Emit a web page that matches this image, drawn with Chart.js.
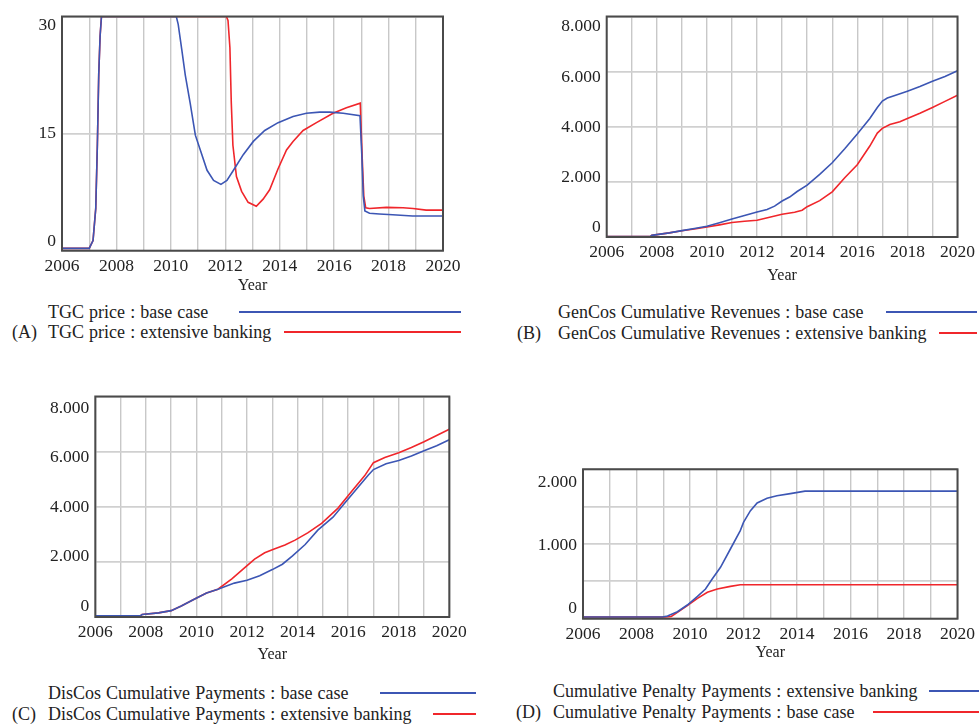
<!DOCTYPE html>
<html>
<head>
<meta charset="utf-8">
<script src="https://cdn.jsdelivr.net/npm/chart.js@4.4.0/dist/chart.umd.min.js"></script>
<style>
  body { margin: 0; width: 980px; height: 726px; position: relative; overflow: hidden; background: #fff;
         font-family: "Liberation Serif", "Times New Roman", serif; color: #222; }
  canvas { position: absolute; }
  .leg { position: absolute; font-size: 18px; line-height: 20px; white-space: nowrap; word-spacing: 0.6px; }
  .swatch { position: absolute; height: 1.6px; }
</style>
</head>
<body>
<script>
// ---- data (years, values) ----
const yearRange = [2006, 2020];

// (A) TGC price
const tgcBaseYears  = [2006, 2007.0, 2007.14, 2007.24, 2007.3, 2007.35, 2007.4, 2007.45, 2010.2, 2010.27, 2010.4, 2010.53, 2010.71, 2010.9, 2011.1, 2011.33, 2011.57, 2011.84, 2012.06, 2012.3, 2012.66, 2013.03, 2013.45, 2013.94, 2014.49, 2014.98, 2015.47, 2015.84, 2016.33, 2016.95, 2017.02, 2017.07, 2017.13, 2017.3, 2017.66, 2018.15, 2018.88, 2020];
const tgcBaseValues = [0.3, 0.3, 1.3, 5.4, 13.6, 22.6, 27.5, 30, 30, 29, 25.8, 22.5, 18.9, 14.8, 12.7, 10.3, 9.0, 8.5, 9.0, 10.3, 12.3, 14.0, 15.4, 16.4, 17.2, 17.6, 17.75, 17.75, 17.6, 17.3, 12, 7.0, 5.1, 4.8, 4.7, 4.6, 4.45, 4.45];
const tgcBankYears  = [2006, 2007.0, 2007.14, 2007.24, 2007.3, 2007.35, 2007.4, 2007.45, 2012.04, 2012.1, 2012.17, 2012.22, 2012.28, 2012.41, 2012.6, 2012.84, 2013.14, 2013.39, 2013.63, 2013.94, 2014.25, 2014.49, 2014.86, 2015.35, 2015.96, 2016.45, 2016.96, 2017.03, 2017.09, 2017.16, 2017.3, 2017.92, 2018.53, 2018.9, 2019.38, 2020];
const tgcBankValues = [0.3, 0.3, 1.3, 5.4, 13.6, 22.6, 27.5, 30, 30, 29.5, 26, 19, 13.5, 9.5, 7.6, 6.2, 5.7, 6.6, 7.8, 10.5, 12.9, 14.0, 15.4, 16.4, 17.6, 18.3, 18.9, 12, 7, 5.5, 5.4, 5.55, 5.5, 5.4, 5.2, 5.2];

// (B) GenCos Cumulative Revenues
const genBaseYears  = [2006, 2007.75, 2007.8, 2008, 2008.5, 2009, 2009.5, 2010, 2010.5, 2011, 2011.5, 2012, 2012.4, 2012.7, 2013, 2013.3, 2013.6, 2014, 2014.5, 2015, 2015.5, 2016, 2016.5, 2016.8, 2017, 2017.2, 2017.5, 2018, 2018.5, 2019, 2019.5, 2020];
const genBaseValues = [20, 20, 60, 85, 150, 230, 310, 390, 520, 650, 780, 910, 1000, 1120, 1305, 1450, 1650, 1880, 2270, 2695, 3200, 3735, 4300, 4700, 4930, 5040, 5130, 5290, 5460, 5650, 5820, 6035];
const genBankYears  = [2006, 2007.75, 2007.8, 2008, 2008.5, 2009, 2009.5, 2010, 2010.5, 2011, 2011.5, 2012, 2012.5, 2013, 2013.5, 2013.8, 2014, 2014.5, 2015, 2015.5, 2016, 2016.5, 2016.8, 2017, 2017.3, 2017.7, 2018, 2018.5, 2019, 2019.5, 2020];
const genBankValues = [20, 20, 60, 85, 150, 225, 290, 360, 440, 525, 570, 610, 720, 826, 900, 970, 1100, 1320, 1640, 2150, 2620, 3300, 3770, 3940, 4080, 4180, 4300, 4490, 4700, 4920, 5140];

// (C) DisCos Cumulative Payments
const disBaseYears  = [2006, 2007.78, 2007.85, 2008.5, 2009, 2009.4, 2009.95, 2010.4, 2010.85, 2011.5, 2012, 2012.5, 2013, 2013.4, 2013.8, 2014.3, 2014.8, 2015.4, 2015.9, 2016.4, 2016.8, 2017, 2017.5, 2018, 2018.5, 2019, 2019.5, 2020];
const disBaseValues = [40, 40, 90, 150, 230, 400, 660, 870, 1010, 1230, 1330, 1500, 1720, 1915, 2215, 2630, 3150, 3620, 4170, 4720, 5150, 5350, 5560, 5680, 5840, 6030, 6210, 6430];
const disBankYears  = [2006, 2007.78, 2007.85, 2008.5, 2009, 2009.4, 2009.95, 2010.4, 2010.85, 2011.4, 2011.9, 2012.3, 2012.7, 2013.05, 2013.5, 2013.9, 2014.4, 2014.95, 2015.6, 2016.15, 2016.65, 2017, 2017.45, 2018, 2018.5, 2019, 2019.6, 2020];
const disBankValues = [40, 40, 90, 150, 230, 400, 660, 870, 1010, 1380, 1780, 2100, 2330, 2460, 2610, 2790, 3050, 3400, 3950, 4570, 5120, 5600, 5790, 5960, 6150, 6360, 6630, 6810];

// (D) Cumulative Penalty Payments
const penBankYears  = [2006, 2008.97, 2009.16, 2009.53, 2009.9, 2010.28, 2010.58, 2010.83, 2011.14, 2011.51, 2011.88, 2012.0, 2012.26, 2012.51, 2012.88, 2013.25, 2013.75, 2014.3, 2020];
const penBankValues = [22, 22, 35, 94, 183, 300, 397, 531, 688, 933, 1179, 1290, 1446, 1549, 1612, 1647, 1674, 1708, 1708];
const penBaseYears  = [2006, 2009.1, 2009.3, 2009.53, 2009.9, 2010.28, 2010.65, 2011.02, 2011.51, 2011.88, 2020];
const penBaseValues = [22, 22, 30, 85, 174, 272, 353, 397, 433, 455, 455];

// axis tick labels
const tgcTicks = [0, 15, 30];
const genTicks = [0, 2000, 4000, 6000, 8000];
const disTicks = [0, 2000, 4000, 6000, 8000];
const penTicks = [0, 1000, 2000];

const BLUE = '#3c56b4';
const RED = '#f0262b';
const FONT = '"Liberation Serif", "Times New Roman", serif';

function pts(xs, ys) { return xs.map((x, i) => ({ x: x, y: ys[i] })); }
function fmt(v) { return String(v).replace(/\B(?=(\d{3})+(?!\d))/g, '.'); }

// plot frame drawn over the lines
const frame = {
  id: 'frame',
  afterDatasetsDraw(chart) {
    const { ctx, chartArea: a } = chart;
    ctx.save();
    ctx.strokeStyle = '#4a4a4a';
    ctx.lineWidth = 2;
    ctx.strokeRect(a.left, a.top, a.right - a.left, a.bottom - a.top);
    ctx.restore();
  }
};

function makePanel(p) {
  const canvas = document.createElement('canvas');
  canvas.width = p.w; canvas.height = p.h;
  canvas.style.left = p.left + 'px'; canvas.style.top = p.top + 'px';
  document.body.appendChild(canvas);

  const plotH = p.plot.b - p.plot.t;
  const k = (plotH - p.inset[0] - p.inset[1]) / (p.yMax - p.yMin);
  const labelMin = p.yMin - p.inset[1] / k;
  const labelMax = p.yMax + p.inset[0] / k;
  const xAxisH = p.h - p.plot.b;

  new Chart(canvas, {
    type: 'line',
    data: {
      datasets: p.series.map(s => ({
        label: s.label, data: pts(s.x, s.y), xAxisID: 'x', yAxisID: 'y',
        borderColor: s.color, borderWidth: 1.6, pointRadius: 0, tension: 0, fill: false
      }))
    },
    options: {
      responsive: false, animation: false, devicePixelRatio: 1,
      layout: { padding: { left: 0, top: p.plot.t, right: p.w - p.plot.r, bottom: 0 } },
      plugins: { legend: { display: false }, tooltip: { enabled: false } },
      scales: {
        x: {
          type: 'linear', min: yearRange[0], max: yearRange[1],
          afterFit: a => { a.height = xAxisH; },
          ticks: {
            stepSize: 1, autoSkip: false, maxRotation: 0, padding: 5, color: '#222',
            font: { family: FONT, size: 17.5 },
            callback: v => (v % 2 === 0 ? String(v) : '')
          },
          grid: { color: '#c8c8c8', lineWidth: 1.4, drawTicks: false },
          border: { display: false },
          title: {
            display: true, text: 'Year', color: '#222',
            font: { family: FONT, size: 16 },
            padding: { top: 0, bottom: xAxisH - 9.6 - p.titleOff }
          }
        },
        y: {
          position: 'left', min: p.yMin, max: p.yMax,
          afterFit: a => { a.width = 0; },
          ticks: { display: false, stepSize: p.yStep },
          grid: { color: '#d0d0d0', lineWidth: 1.8, drawTicks: false },
          border: { display: false }
        },
        yLabels: {
          position: 'left', min: labelMin, max: labelMax,
          afterBuildTicks: a => { a.ticks = p.yTicks.map(v => ({ value: v })); },
          afterFit: a => { a.width = p.plot.l; },
          ticks: { padding: 6, color: '#222', font: { family: FONT, size: 17.5 }, callback: v => fmt(v) },
          grid: { display: false, drawTicks: false },
          border: { display: false }
        }
      }
    },
    plugins: [frame]
  });
}

function addLegend(tag, tagX, textX, rows) {
  rows.forEach((r, i) => {
    const t = document.createElement('div');
    t.className = 'leg';
    t.style.left = textX + 'px'; t.style.top = (r.y - 10) + 'px';
    t.textContent = r.text;
    document.body.appendChild(t);
    const s = document.createElement('div');
    s.className = 'swatch';
    s.style.left = r.x0 + 'px'; s.style.width = (r.x1 - r.x0) + 'px';
    s.style.top = (r.y - 0.8) + 'px'; s.style.background = r.color;
    document.body.appendChild(s);
    if (i === rows.length - 1) {
      const g = document.createElement('div');
      g.className = 'leg';
      g.style.left = tagX + 'px'; g.style.top = (r.y - 10) + 'px';
      g.textContent = tag;
      document.body.appendChild(g);
    }
  });
}

makePanel({
  left: 0, top: 0, w: 470, h: 300,
  plot: { l: 62, t: 6, r: 443, b: 250.7 }, inset: [9, 10], titleOff: 35,
  yMin: 0, yMax: 30, yStep: 15, yTicks: tgcTicks,
  series: [
    { label: 'TGC price : base case', x: tgcBaseYears, y: tgcBaseValues, color: BLUE },
    { label: 'TGC price : extensive banking', x: tgcBankYears, y: tgcBankValues, color: RED }
  ]
});
makePanel({
  left: 490, top: 0, w: 490, h: 300,
  plot: { l: 116.7, t: 14.5, r: 470, b: 237 }, inset: [10.5, 10], titleOff: 39,
  yMin: 0, yMax: 8000, yStep: 2000, yTicks: genTicks,
  series: [
    { label: 'GenCos Cumulative Revenues : base case', x: genBaseYears, y: genBaseValues, color: BLUE },
    { label: 'GenCos Cumulative Revenues : extensive banking', x: genBankYears, y: genBankValues, color: RED }
  ]
});
makePanel({
  left: 0, top: 380, w: 490, h: 300,
  plot: { l: 95.3, t: 14, r: 449.3, b: 237 }, inset: [12, 11], titleOff: 38,
  yMin: 0, yMax: 8000, yStep: 2000, yTicks: disTicks,
  series: [
    { label: 'DisCos Cumulative Payments : base case', x: disBaseYears, y: disBaseValues, color: BLUE },
    { label: 'DisCos Cumulative Payments : extensive banking', x: disBankYears, y: disBankValues, color: RED }
  ]
});
makePanel({
  left: 490, top: 450, w: 490, h: 230,
  plot: { l: 93, t: 19.3, r: 470, b: 168.7 }, inset: [12.7, 10.7], titleOff: 34,
  yMin: 0, yMax: 2000, yStep: 500, yTicks: penTicks,
  series: [
    { label: 'Cumulative Penalty Payments : extensive banking', x: penBankYears, y: penBankValues, color: BLUE },
    { label: 'Cumulative Penalty Payments : base case', x: penBaseYears, y: penBaseValues, color: RED }
  ]
});

addLegend('(A)', 12, 48, [
  { text: 'TGC price : base case', y: 312, x0: 239, x1: 461, color: BLUE },
  { text: 'TGC price : extensive banking', y: 332, x0: 284, x1: 461, color: RED }
]);
addLegend('(B)', 517, 558, [
  { text: 'GenCos Cumulative Revenues : base case', y: 312, x0: 886, x1: 977, color: BLUE },
  { text: 'GenCos Cumulative Revenues : extensive banking', y: 333, x0: 939, x1: 977, color: RED }
]);
addLegend('(C)', 12, 48, [
  { text: 'DisCos Cumulative Payments : base case', y: 693, x0: 380, x1: 476, color: BLUE },
  { text: 'DisCos Cumulative Payments : extensive banking', y: 714, x0: 433, x1: 476, color: RED }
]);
addLegend('(D)', 516, 553, [
  { text: 'Cumulative Penalty Payments : extensive banking', y: 691, x0: 929, x1: 979, color: BLUE },
  { text: 'Cumulative Penalty Payments : base case', y: 712, x0: 873, x1: 979, color: RED }
]);
</script>
</body>
</html>
